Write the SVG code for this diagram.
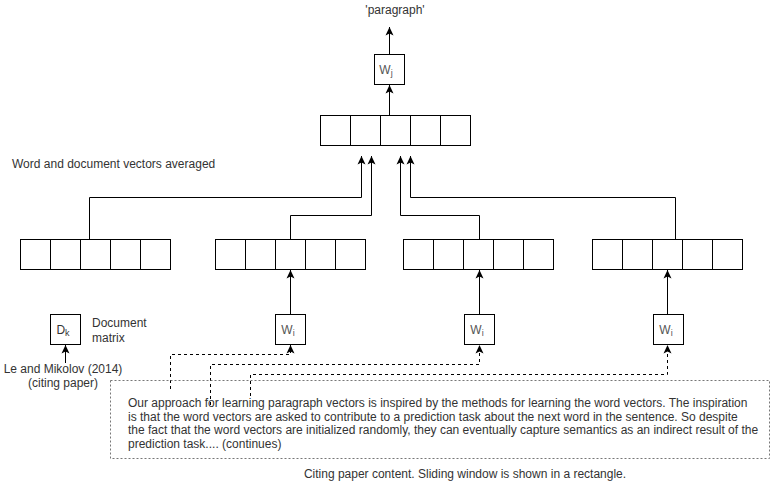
<svg xmlns="http://www.w3.org/2000/svg" xmlns:xlink="http://www.w3.org/1999/xlink" width="771" height="490" viewBox="0 0 771 490">
  <style>
    text { font-family: "Liberation Sans", Arial, Helvetica, sans-serif; font-size: 12px; fill: #333; }
    .cell { fill: #fff; stroke: #000; stroke-width: 1; }
    .box { fill: #fff; stroke: #000; stroke-width: 1; }
    .lbl { fill: #555; }
    .sub { font-size: 9px; }
    .edge { fill: none; stroke: #000; stroke-width: 1; }
    .dash { fill: none; stroke: #000; stroke-width: 1; stroke-dasharray: 3 3; }
    .window { fill: none; stroke: #777; stroke-width: 1; stroke-dasharray: 2 2; }
  </style>
  <defs>
    <marker id="arrow" markerUnits="userSpaceOnUse" markerWidth="10" markerHeight="10" viewBox="0 0 10 10" refX="9" refY="5" orient="auto">
      <path d="M0.5,1 L9,5 L0.5,9 L2.5,5 z" fill="#000"/>
    </marker>
    <!-- five-cell vector -->
    <g id="vec">
      <rect class="cell" x="0" y="0" width="30" height="30"/>
      <rect class="cell" x="30" y="0" width="30" height="30"/>
      <rect class="cell" x="60" y="0" width="30" height="30"/>
      <rect class="cell" x="90" y="0" width="30" height="30"/>
      <rect class="cell" x="120" y="0" width="30" height="30"/>
    </g>
  </defs>

  <rect width="771" height="490" fill="#fff"/>

  <!-- connectors -->
  <g id="connectors">
    <path class="edge" d="M389.5,54 V27" marker-end="url(#arrow)"/>
    <path class="edge" d="M389.5,115 V85" marker-end="url(#arrow)"/>
    <path class="edge" d="M89.5,239 V197.5 H361.5 V156" marker-end="url(#arrow)"/>
    <path class="edge" d="M290.5,239 V215.5 H371.5 V156" marker-end="url(#arrow)"/>
    <path class="edge" d="M479.5,239 V215.5 H400.5 V156" marker-end="url(#arrow)"/>
    <path class="edge" d="M675.5,239 V197.5 H410.5 V156" marker-end="url(#arrow)"/>
    <path class="edge" d="M290.5,314 V270" marker-end="url(#arrow)"/>
    <path class="edge" d="M479.5,314 V270" marker-end="url(#arrow)"/>
    <path class="edge" d="M667.5,314 V270" marker-end="url(#arrow)"/>
    <path class="edge" d="M65.5,363 V345" marker-end="url(#arrow)"/>
    <path class="dash" d="M170.5,389 V354.5 H290.5 V345" marker-end="url(#arrow)"/>
    <path class="dash" d="M210.5,405 V364.5 H479.5 V345" marker-end="url(#arrow)"/>
    <path class="dash" d="M250.5,396 V374.5 H667.5 V345" marker-end="url(#arrow)"/>
  </g>

  <!-- output label -->
  <g id="output">
    <text x="395" y="14" text-anchor="middle">'paragraph'</text>
  </g>

  <!-- output weights -->
  <g id="wj">
    <rect class="box" x="374.5" y="54.5" width="30" height="30"/>
    <text class="lbl" x="386" y="74" text-anchor="middle">W<tspan class="sub" dy="2">j</tspan></text>
  </g>

  <!-- averaged vector -->
  <g id="avg">
    <use xlink:href="#vec" x="320.5" y="115.5"/>
  </g>

  <g id="avg-label">
    <text x="12" y="168">Word and document vectors averaged</text>
  </g>

  <!-- input vectors -->
  <g id="vec-doc"><use xlink:href="#vec" x="20.5" y="239.5"/></g>
  <g id="vec-w1"><use xlink:href="#vec" x="215.5" y="239.5"/></g>
  <g id="vec-w2"><use xlink:href="#vec" x="403.5" y="239.5"/></g>
  <g id="vec-w3"><use xlink:href="#vec" x="592.5" y="239.5"/></g>

  <!-- document matrix -->
  <g id="dk">
    <rect class="box" x="50.5" y="314.5" width="30" height="30"/>
    <text x="63" y="334" text-anchor="middle">D<tspan class="sub" dy="2">k</tspan></text>
    <text x="92" y="327">Document</text>
    <text x="92" y="342">matrix</text>
  </g>

  <g id="source">
    <text x="63" y="373" text-anchor="middle">Le and Mikolov (2014)</text>
    <text x="63" y="387" text-anchor="middle">(citing paper)</text>
  </g>

  <!-- word matrices -->
  <g id="wi-1">
    <rect class="box" x="275.5" y="314.5" width="30" height="30"/>
    <text class="lbl" x="288" y="334" text-anchor="middle">W<tspan class="sub" dy="2">i</tspan></text>
  </g>
  <g id="wi-2">
    <rect class="box" x="464.5" y="314.5" width="30" height="30"/>
    <text class="lbl" x="477" y="334" text-anchor="middle">W<tspan class="sub" dy="2">i</tspan></text>
  </g>
  <g id="wi-3">
    <rect class="box" x="653.5" y="314.5" width="30" height="30"/>
    <text class="lbl" x="666" y="334" text-anchor="middle">W<tspan class="sub" dy="2">i</tspan></text>
  </g>

  <!-- citing paper text -->
  <g id="paper">
    <rect class="window" x="110.5" y="380.5" width="659" height="78"/>
    <text x="128" y="407">Our approach for learning paragraph vectors is inspired by the methods for learning the word vectors. The inspiration</text>
    <text x="128" y="420.5">is that the word vectors are asked to contribute to a prediction task about the next word in the sentence. So despite</text>
    <text x="128" y="434">the fact that the word vectors are initialized randomly, they can eventually capture semantics as an indirect result of the</text>
    <text x="128" y="447.5">prediction task.... (continues)</text>
  </g>

  <g id="caption">
    <text x="465" y="478" text-anchor="middle">Citing paper content. Sliding window is shown in a rectangle.</text>
  </g>
</svg>
